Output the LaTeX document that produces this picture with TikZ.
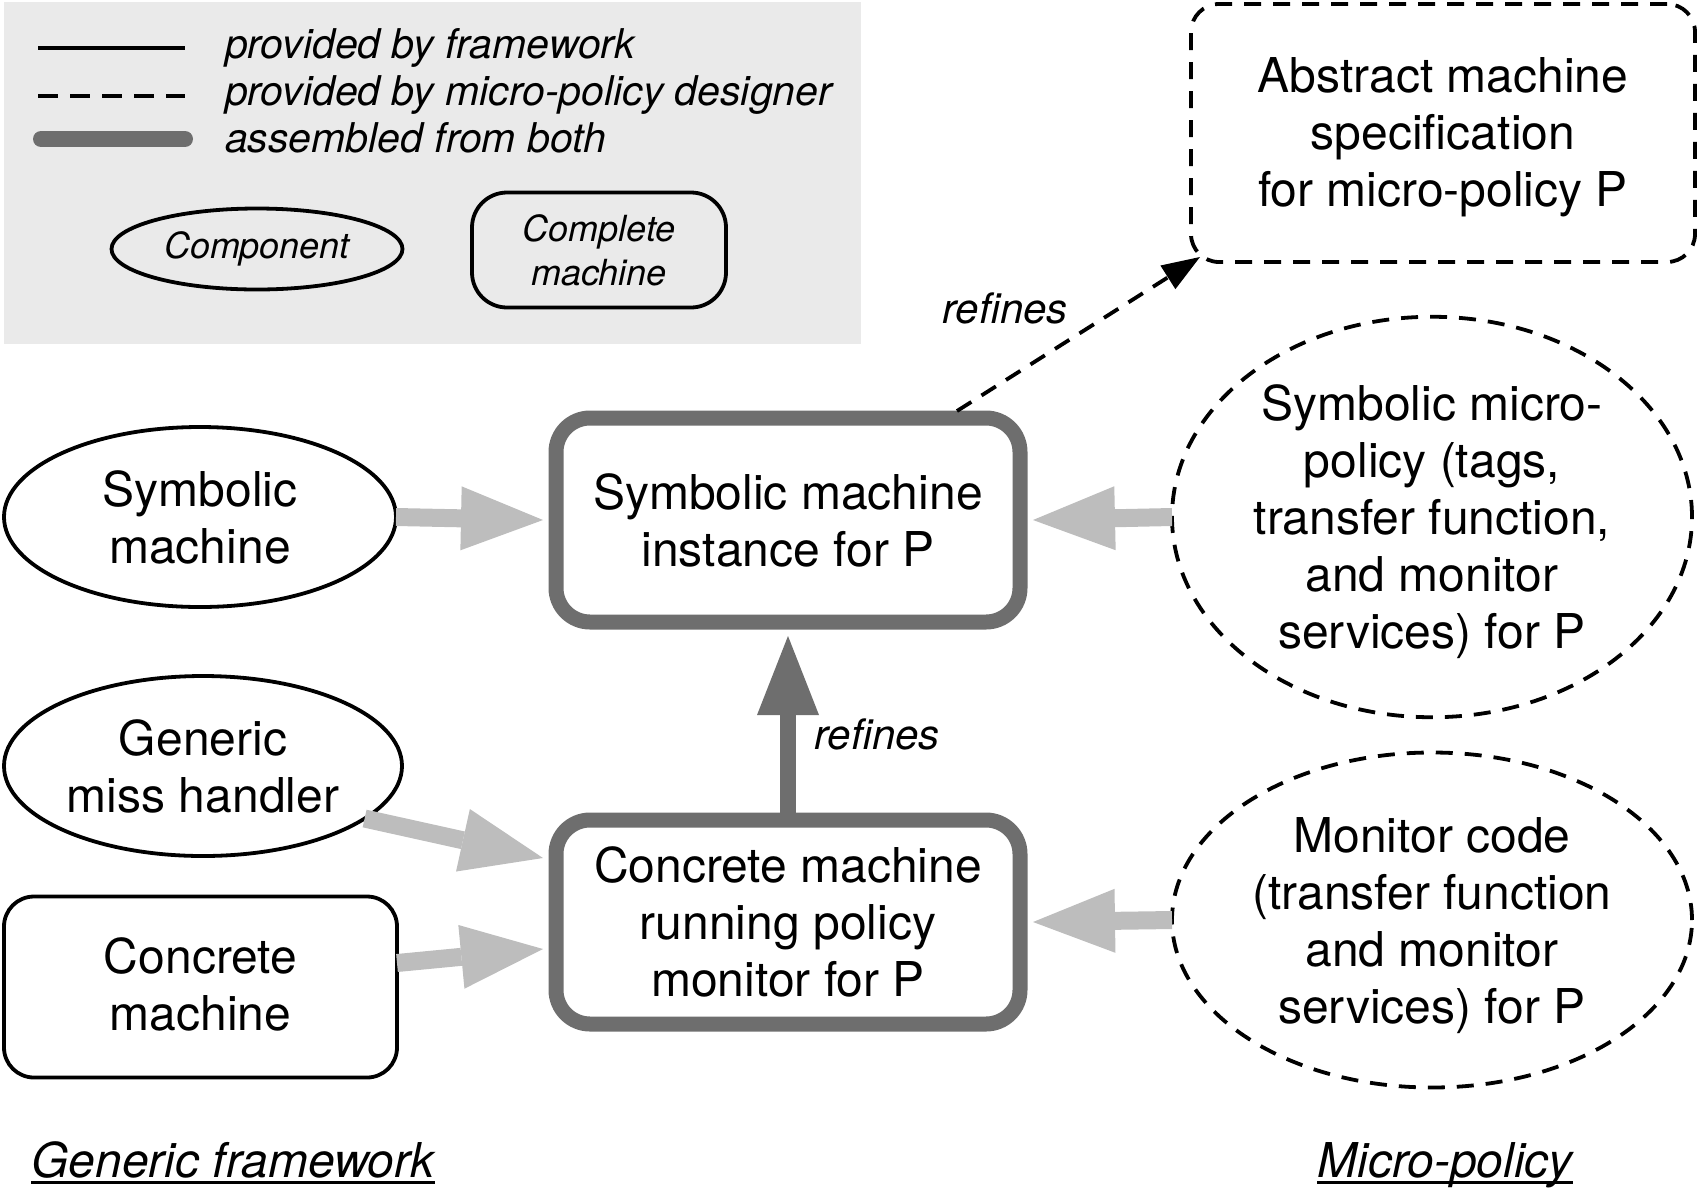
\documentclass[tikz,border=0pt]{standalone}
\usepackage{fontspec}
\setmainfont{TeX Gyre Heros}
\usetikzlibrary{shapes.geometric,arrows.meta}
\definecolor{legbg}{HTML}{EAEAEA}
\definecolor{dg}{HTML}{6E6E6E}
\definecolor{lg}{HTML}{BDBDBD}
\begin{document}
\begin{tikzpicture}[x=1pt,y=-1pt,
  every node/.style={outer sep=0pt, inner sep=0pt, align=center},
  thin/.style={line width=3.8pt},
  dsh/.style={dash pattern=on 17pt off 12pt},
  main/.style={font=\fontsize{48}{57}\selectfont},
  comp/.style={main, ellipse, draw, thin},
  fw/.style={main, rectangle, rounded corners=30pt, draw, thin},
  pol/.style={main, ellipse, draw, thin, dsh},
  asm/.style={main, rectangle, rounded corners=34pt, draw=dg, line width=15pt, fill=white},
  feed/.style={lg, line width=18pt, -{Triangle[length=82pt,width=64pt,line width=0pt]}},
  lbl/.style={font=\fontsize{42}{50}\selectfont\itshape},
  legtxt/.style={font=\fontsize{41}{48}\selectfont\itshape, anchor=base west},
  smalltxt/.style={font=\fontsize{36}{44}\selectfont\itshape},
  bottomlbl/.style={font=\fontsize{48}{57}\selectfont\itshape, anchor=base},
]
\useasboundingbox (0,0) rectangle (1698,1187);

% legend
\fill[legbg] (4,2) rectangle (861,344);
\draw[thin] (38,48) -- (185,48);
\draw[thin, dash pattern=on 20pt off 12pt] (38,96) -- (185,96);
\draw[dg, line width=16pt, line cap=round] (41,139) -- (185,139);
\node[legtxt] (lt1) at (225,58) {provided by framework};
\node[legtxt] (lt2) at (225,105) {provided by micro-policy designer};
\node[legtxt] (lt3) at (225,152) {assembled from both};
\node[smalltxt, ellipse, draw, thin, minimum width=291pt, minimum height=81pt] (lcomp) at (257,249) {Component};
\node[smalltxt, rectangle, rounded corners=35pt, draw, thin, minimum width=254pt, minimum height=115pt] (lcm) at (599,250) {Complete\\machine};

% nodes
\node[asm, minimum width=464pt, minimum height=204pt] (sinst) at (788,520) {Symbolic machine\\instance for P};
\node[asm, minimum width=464pt, minimum height=204pt] (cm) at (788,922) {Concrete machine\\running policy\\monitor for P};
\node[comp, minimum width=392pt, minimum height=180pt] (symb) at (200,517) {Symbolic\\machine};
\node[comp, minimum width=398pt, minimum height=180pt] (gen) at (203,766) {Generic\\miss handler};
\node[fw, minimum width=393pt, minimum height=181pt] (conc) at (200.5,987) {Concrete\\machine\rule[-6.5pt]{0pt}{1pt}};
\node[pol, minimum width=520pt, minimum height=399pt] (smp) at (1432,517) {\rule{0pt}{45pt}Symbolic micro-\\policy (tags,\\transfer function,\\and monitor\\services) for P};
\node[pol, minimum width=520pt, minimum height=335pt] (mon) at (1432,920) {\rule{0pt}{47pt}Monitor code\\(transfer function\\and monitor\\services) for P};
\node[main, rectangle, rounded corners=28pt, draw, thin, dsh, minimum width=504pt, minimum height=258pt] (abs) at (1443,133) {\rule{0pt}{43pt}Abstract machine\\specification\\for micro-policy P};

% connectors
\draw[feed] (symb.east) -- ([xshift=-13pt]sinst.west);
\draw[feed] (gen.-18) -- ([xshift=-13pt,yshift=64pt]cm.west);
\draw[feed] ([yshift=24pt]conc.east) -- ([xshift=-13pt,yshift=-27pt]cm.west);
\draw[feed] (smp.west) -- ([xshift=13pt]sinst.east);
\draw[feed] (mon.west) -- ([xshift=13pt]cm.east);
\draw[dg, line width=16pt, -{Triangle[length=79pt,width=62pt,line width=0pt]}] (cm.north) -- ([yshift=-14pt]sinst.south);
\node[lbl] (r2) at (877,734) {refines};
\draw[thin, dsh, -{Triangle[length=38pt,width=28pt,line width=0pt]}] ([xshift=-63pt,yshift=7pt]sinst.north east) -- ([xshift=9pt,yshift=5pt]abs.south west);
\node[lbl] (r1) at (1005,308) {refines};

% bottom labels
\node[bottomlbl] (gf) at (233,1177) {Generic framework};
\draw[line width=3pt] ([yshift=-5pt]gf.base west) -- ([yshift=-5pt]gf.base east);
\node[bottomlbl] (mp) at (1445,1177) {Micro-policy};
\draw[line width=3pt] ([yshift=-5pt]mp.base west) -- ([yshift=-5pt]mp.base east);
\end{tikzpicture}
\end{document}
